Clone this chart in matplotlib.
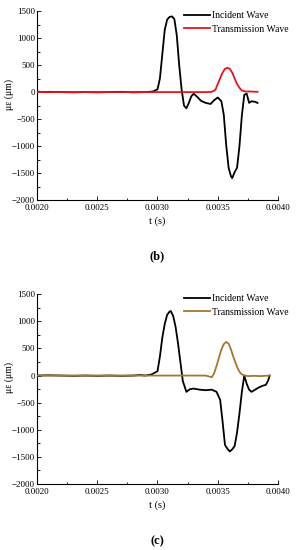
import numpy as np
import matplotlib.pyplot as plt
from matplotlib.ticker import MultipleLocator, FormatStrFormatter

plt.rcParams['font.family'] = ['Liberation Serif', 'DejaVu Serif']

# (b) incident / transmission
tb_inc = [0.00200, 0.00205, 0.00210, 0.00220, 0.00230, 0.00240, 0.00250, 0.00260, 0.00270,
          0.00280, 0.00290, 0.00296, 0.00300, 0.00302, 0.00304, 0.00306, 0.00308, 0.00310,
          0.00312, 0.00314, 0.00316, 0.00318, 0.00320, 0.00322, 0.00324, 0.00326, 0.00328,
          0.00330, 0.00333, 0.00336, 0.00340, 0.00344, 0.00347, 0.00350, 0.00353, 0.00355,
          0.00357, 0.00359, 0.00361, 0.00362, 0.00364, 0.00366, 0.00368, 0.00370, 0.00372,
          0.00374, 0.00376, 0.00378, 0.00381, 0.00383]
vb_inc = [10, 0, 5, 0, -5, 0, -5, 0, 5,
          -5, 0, 10, 50, 250, 700, 1150, 1340, 1390,
          1400, 1350, 1050, 500, 50, -250, -300, -200, -80,
          -30, -90, -160, -200, -220, -150, -100, -170, -420,
          -980, -1400, -1560, -1590, -1480, -1400, -1000, -430, -50,
          -30, -200, -170, -180, -200]

tb_tr = [0.00200, 0.00250, 0.00300, 0.00340, 0.00345, 0.00348, 0.00350, 0.00352, 0.00354,
         0.00356, 0.00358, 0.00360, 0.00362, 0.00364, 0.00366, 0.00368, 0.00370, 0.00373,
         0.00378, 0.00383]
vb_tr = [0, 0, 0, 0, 5, 40, 150, 260, 360,
         430, 450, 430, 360, 250, 150, 80, 30, 10,
         10, 5]

# (c)
tc_inc = [0.00200, 0.00210, 0.00220, 0.00230, 0.00240, 0.00250, 0.00260, 0.00270, 0.00280,
          0.00285, 0.00290, 0.00295, 0.00300, 0.00302, 0.00304, 0.00306, 0.00308, 0.00310,
          0.00311, 0.00313, 0.00315, 0.00317, 0.00319, 0.00321, 0.00324, 0.00327, 0.00330,
          0.00335, 0.00340, 0.00345, 0.00349, 0.00352, 0.00354, 0.00356, 0.00358, 0.00360,
          0.00362, 0.00364, 0.00366, 0.00368, 0.00370, 0.00372, 0.00374, 0.00376, 0.00378,
          0.00381, 0.00384, 0.00387, 0.00390, 0.00392, 0.00393]
vc_inc = [0, 5, 0, -5, 0, -5, 0, -5, 0,
          10, 0, 20, 80, 350, 700, 950, 1120, 1180,
          1190, 1100, 900, 600, 250, -100, -300, -250, -240,
          -260, -270, -260, -300, -450, -850, -1280, -1350, -1400,
          -1360, -1300, -1050, -700, -300, 0, -150, -260, -300,
          -260, -220, -190, -170, -80, 0]

tc_tr = [0.00200, 0.00250, 0.00300, 0.00340, 0.00345, 0.00347, 0.00349, 0.00351, 0.00353,
         0.00355, 0.00357, 0.00359, 0.00361, 0.00363, 0.00365, 0.00367, 0.00369, 0.00371,
         0.00375, 0.00380, 0.00385, 0.00393]
vc_tr = [0, 0, 0, 0, -30, 40, 180, 330, 480,
         580, 620, 590, 480, 340, 220, 110, 40, 10,
         -10, -5, -10, 0]

fig = plt.figure(figsize=(2.98, 5.5), dpi=100)
panels = [
    ([0.124, 0.636, 0.809, 0.344], tb_inc, vb_inc, tb_tr, vb_tr, '#e8141c', '(b)', 256),
    ([0.124, 0.120, 0.809, 0.345], tc_inc, vc_inc, tc_tr, vc_tr, '#a6762e', '(c)', 541),
]
for rect, ti, vi, tt, vt, col, tag, ytag in panels:
    ax = fig.add_axes(rect)
    ax.plot(ti, vi, color='black', lw=1.3, label='Incident Wave', zorder=2)
    ax.plot(tt, vt, color=col, lw=1.3, label='Transmission Wave', zorder=3)
    ax.set_xlim(0.0020, 0.0040)
    ax.set_ylim(-2000, 1500)
    ax.xaxis.set_major_locator(MultipleLocator(0.0005))
    ax.xaxis.set_minor_locator(MultipleLocator(0.00025))
    ax.xaxis.set_major_formatter(FormatStrFormatter('%.4f'))
    ax.yaxis.set_major_locator(MultipleLocator(500))
    ax.yaxis.set_minor_locator(MultipleLocator(250))
    for s in ['top', 'right']:
        ax.spines[s].set_visible(False)
    for s in ['left', 'bottom']:
        ax.spines[s].set_linewidth(0.8)
    ax.tick_params(which='both', direction='in', labelsize=6.5, width=0.6)
    ax.tick_params(axis='y', pad=1.5)
    ax.tick_params(axis='x', pad=3)
    ax.tick_params(which='major', length=3)
    ax.tick_params(which='minor', length=1.8)
    ax.set_xlabel('t (s)', fontsize=7.5, labelpad=3)
    ax.set_ylabel('με (μm)', fontsize=7, labelpad=2)
    ax.yaxis.set_label_coords(-0.095, 0.56)
    leg = ax.legend(loc='upper right', bbox_to_anchor=(1.07, 1.03), fontsize=7,
                    frameon=False, handlelength=2.6, handletextpad=0.3,
                    labelspacing=0.45, borderaxespad=0.2)
    fig.text(157.5 / 298, 1 - ytag / 550, tag, fontsize=9, fontweight='bold',
             ha='center', va='center')

plt.savefig('out.png', dpi=100)
